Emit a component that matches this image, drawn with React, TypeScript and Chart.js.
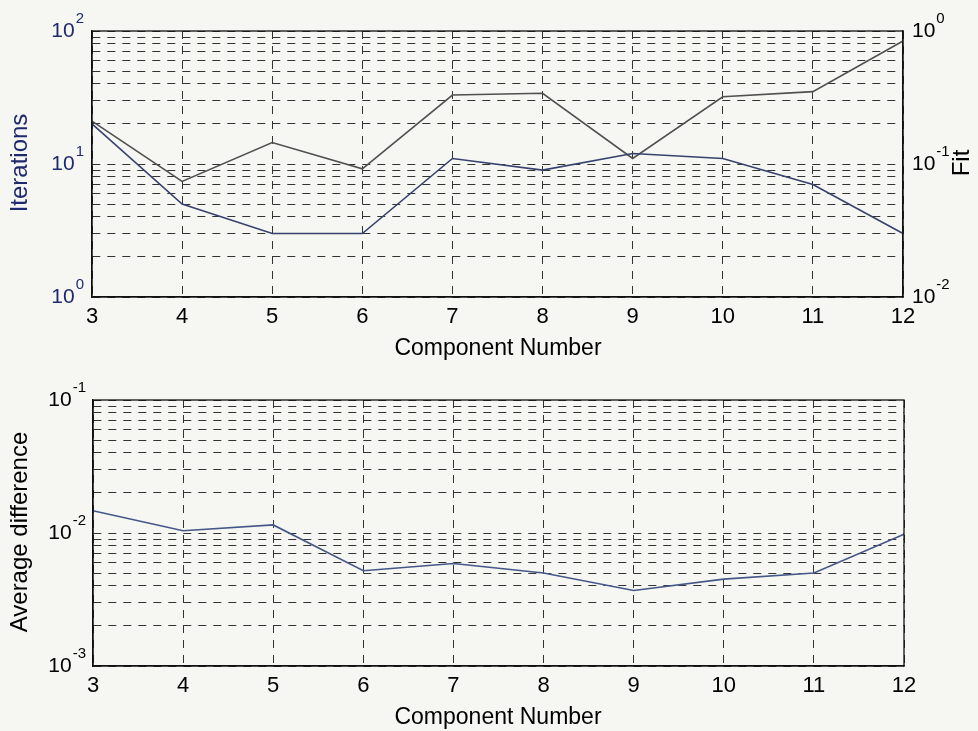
import React, { useEffect, useRef } from "react";
import { Chart, registerables } from "chart.js";

Chart.register(...registerables);

// ---------- data ----------
const components = ["3", "4", "5", "6", "7", "8", "9", "10", "11", "12"];
const iterations = [20, 5, 3, 3, 11, 9, 12, 11, 7, 3];
const fit = [0.21, 0.074, 0.145, 0.092, 0.33, 0.34, 0.11, 0.32, 0.35, 0.84];
const avgDifference = [0.0147, 0.0104, 0.0115, 0.0052, 0.0059, 0.005, 0.0037, 0.0045, 0.005, 0.0098];

const iterationsTickExps = [0, 1, 2];
const fitTickExps = [-2, -1, 0];
const avgDiffTickExps = [-3, -2, -1];
const gridSignificands = [1, 2, 3, 4, 5, 6, 7, 8, 9];

const FONT = '"Liberation Sans", Arial, Helvetica, sans-serif';
const NAVY = "#1f2a6e";
const INK = "#111111";

function decadeGrid(minExp: number, maxExp: number): number[] {
  const vals: number[] = [];
  for (let e = minExp; e < maxExp; e++) {
    for (const s of gridSignificands) vals.push(Number((s * Math.pow(10, e)).toPrecision(6)));
  }
  vals.push(Number(Math.pow(10, maxExp).toPrecision(6)));
  return vals;
}

// ---------- decoration plugin: frame, superscript tick labels, axis titles ----------
const decorPlugin = {
  id: "decor",
  afterDraw(chart: any, _args: any, opts: any) {
    const ctx = chart.ctx as CanvasRenderingContext2D;
    const area = chart.chartArea;
    ctx.save();
    ctx.setLineDash([]);
    ctx.strokeStyle = INK;
    ctx.lineWidth = 1.3;
    ctx.strokeRect(area.left, area.top, area.right - area.left, area.bottom - area.top);

    for (const lab of opts.yLabels || []) {
      const scale = chart.scales[lab.scaleId];
      for (const e of lab.exps) {
        const y = scale.getPixelForValue(Math.pow(10, e));
        const expText = String(e);
        ctx.font = `21px ${FONT}`;
        const wb = ctx.measureText("10").width;
        ctx.font = `15px ${FONT}`;
        const we = ctx.measureText(expText).width;
        const x0 = lab.side === "left" ? area.left - lab.gap - wb - we - 1 : area.right + lab.gap;
        ctx.fillStyle = lab.color;
        ctx.textAlign = "left";
        ctx.textBaseline = "middle";
        ctx.font = `21px ${FONT}`;
        ctx.fillText("10", x0, y);
        ctx.font = `15px ${FONT}`;
        ctx.fillText(expText, x0 + wb + 1, y - 12);
      }
    }

    for (const t of opts.titles || []) {
      ctx.save();
      ctx.translate(t.x, t.y);
      ctx.rotate(t.rotation || 0);
      ctx.fillStyle = t.color;
      ctx.font = `${t.size}px ${FONT}`;
      ctx.textAlign = "center";
      ctx.textBaseline = "middle";
      ctx.fillText(t.text, 0, 0);
      ctx.restore();
    }
    ctx.restore();
  },
};

const gridStyle = { color: "#333333", lineWidth: 1, drawTicks: false };
const borderStyle = { display: true, color: INK, width: 1.3, dash: [8, 7] };

function logAxis(position: string, minExp: number, maxExp: number, width: number, showGrid: boolean) {
  return {
    type: "logarithmic",
    position,
    min: Math.pow(10, minExp),
    max: Math.pow(10, maxExp),
    grid: { ...gridStyle, display: showGrid },
    border: { ...borderStyle },
    ticks: { display: false },
    afterBuildTicks: (scale: any) => {
      scale.ticks = decadeGrid(minExp, maxExp).map((v) => ({ value: v }));
    },
    afterFit: (scale: any) => {
      scale.width = width;
    },
  };
}

function xAxis(height: number) {
  return {
    type: "category",
    labels: components,
    grid: { ...gridStyle, display: true },
    border: { ...borderStyle },
    ticks: {
      color: "#000",
      font: { family: FONT, size: 22 },
      padding: 7,
      maxRotation: 0,
      autoSkip: false,
    },
    afterFit: (scale: any) => {
      scale.height = height;
    },
  };
}

function topConfig(): any {
  return {
    type: "line",
    data: {
      labels: components,
      datasets: [
        {
          label: "Iterations",
          data: iterations,
          yAxisID: "y",
          borderColor: "#38426f",
          borderWidth: 1.6,
          pointRadius: 0,
          tension: 0,
          fill: false,
        },
        {
          label: "Fit",
          data: fit,
          yAxisID: "y2",
          borderColor: "#505050",
          borderWidth: 1.6,
          pointRadius: 0,
          tension: 0,
          fill: false,
        },
      ],
    },
    options: {
      responsive: false,
      maintainAspectRatio: false,
      animation: false,
      events: [],
      layout: { padding: { top: 31, left: 0, right: 0, bottom: 0 } },
      scales: {
        x: xAxis(68),
        y: logAxis("left", 0, 2, 92, true),
        y2: logAxis("right", -2, 0, 75, false),
      },
      plugins: {
        legend: { display: false },
        tooltip: { enabled: false },
        decor: {
          yLabels: [
            { scaleId: "y", exps: iterationsTickExps, side: "left", gap: 8, color: NAVY },
            { scaleId: "y2", exps: fitTickExps, side: "right", gap: 9, color: "#000" },
          ],
          titles: [
            { text: "Iterations", x: 20, y: 163, rotation: -Math.PI / 2, size: 24, color: NAVY },
            { text: "Fit", x: 962, y: 163, rotation: -Math.PI / 2, size: 24, color: "#000" },
            { text: "Component Number", x: 498, y: 349, rotation: 0, size: 23, color: "#000" },
          ],
        },
      },
    },
    plugins: [decorPlugin],
  };
}

function bottomConfig(): any {
  return {
    type: "line",
    data: {
      labels: components,
      datasets: [
        {
          label: "Average difference",
          data: avgDifference,
          yAxisID: "y",
          borderColor: "#465789",
          borderWidth: 1.6,
          pointRadius: 0,
          tension: 0,
          fill: false,
        },
      ],
    },
    options: {
      responsive: false,
      maintainAspectRatio: false,
      animation: false,
      events: [],
      layout: { padding: { top: 35, left: 0, right: 74, bottom: 0 } },
      scales: {
        x: xAxis(65),
        y: logAxis("left", -3, -1, 93, true),
      },
      plugins: {
        legend: { display: false },
        tooltip: { enabled: false },
        decor: {
          yLabels: [{ scaleId: "y", exps: avgDiffTickExps, side: "left", gap: 7, color: "#000" }],
          titles: [
            { text: "Average difference", x: 20, y: 167, rotation: -Math.PI / 2, size: 24, color: "#000" },
            { text: "Component Number", x: 498, y: 353, rotation: 0, size: 23, color: "#000" },
          ],
        },
      },
    },
    plugins: [decorPlugin],
  };
}

function ChartCanvas({ makeConfig, top, height }: { makeConfig: () => any; top: number; height: number }) {
  const ref = useRef<HTMLCanvasElement>(null);
  useEffect(() => {
    if (!ref.current) return;
    const chart = new Chart(ref.current, makeConfig());
    return () => chart.destroy();
  }, []);
  return (
    <canvas
      ref={ref}
      width={978}
      height={height}
      style={{ position: "absolute", left: 0, top, width: 978, height, display: "block" }}
    />
  );
}

export default function App() {
  return (
    <div
      style={{
        position: "absolute",
        left: 0,
        top: 0,
        width: 978,
        height: 731,
        background: "#f6f6f2",
        overflow: "hidden",
      }}
    >
      <ChartCanvas makeConfig={topConfig} top={0} height={365} />
      <ChartCanvas makeConfig={bottomConfig} top={365} height={366} />
    </div>
  );
}
